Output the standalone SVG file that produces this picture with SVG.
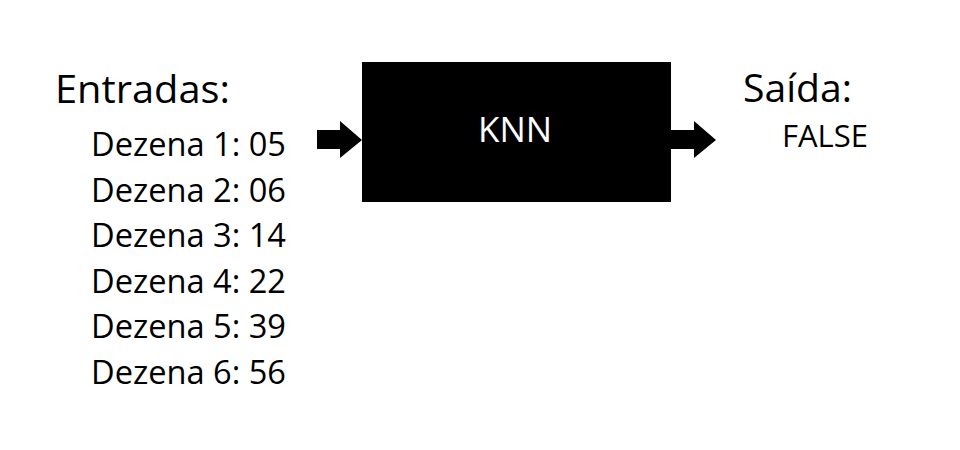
<svg xmlns="http://www.w3.org/2000/svg" width="960" height="450" viewBox="0 0 960 450">
<style>
text{font-family:"Open Sans","Liberation Sans",sans-serif;fill:#000}
.h{font-size:38px}
.v{font-size:32px}
.arrow{fill:#000}
</style>
<rect width="960" height="450" fill="#fff"/>
<g id="inputs">
<text class="h" x="55" y="103" textLength="175" lengthAdjust="spacingAndGlyphs">Entradas:</text>
<text class="v" x="91" y="156" textLength="195" lengthAdjust="spacingAndGlyphs">Dezena 1: 05</text>
<text class="v" x="91" y="201.6" textLength="195" lengthAdjust="spacingAndGlyphs">Dezena 2: 06</text>
<text class="v" x="91" y="247.2" textLength="195" lengthAdjust="spacingAndGlyphs">Dezena 3: 14</text>
<text class="v" x="91" y="292.8" textLength="195" lengthAdjust="spacingAndGlyphs">Dezena 4: 22</text>
<text class="v" x="91" y="338.4" textLength="195" lengthAdjust="spacingAndGlyphs">Dezena 5: 39</text>
<text class="v" x="91" y="384" textLength="195" lengthAdjust="spacingAndGlyphs">Dezena 6: 56</text>
</g>
<g id="knn">
<rect x="362" y="62" width="309" height="140" fill="#000"/>
<text x="515" y="142" text-anchor="middle" style="font-size:35px;fill:#fff" textLength="74" lengthAdjust="spacingAndGlyphs">KNN</text>
</g>
<g id="output">
<text class="h" x="743" y="102" textLength="109" lengthAdjust="spacingAndGlyphs">Saída:</text>
<text x="782" y="147" style="font-size:31px" textLength="86" lengthAdjust="spacingAndGlyphs">FALSE</text>
</g>
<g id="connectors">
<polygon class="arrow" points="317,130 340,130 340,121 362,140 340,158 340,149 317,149"/>
<polygon class="arrow" points="671,130 694,130 694,121 716,140 694,158 694,149 671,149"/>
</g>
</svg>
